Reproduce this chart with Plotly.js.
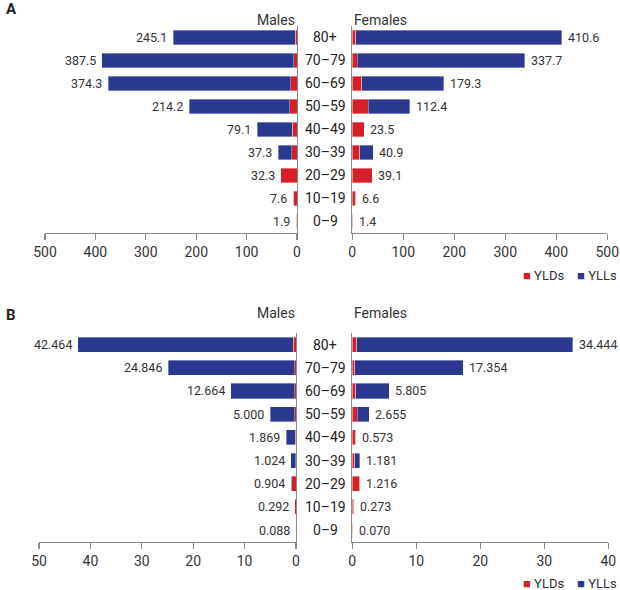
<!DOCTYPE html>
<html>
<head>
<meta charset="utf-8">
<script src="https://cdn.plot.ly/plotly-3.0.1.min.js"></script>
<style>html,body{margin:0;padding:0;background:#fff;}#chart{width:620px;height:590px;}</style>
</head>
<body>
<div id="chart"></div>
<script>
// Age groups, top to bottom
const ages = ["80+", "70–79", "60–69", "50–59", "40–49", "30–39", "20–29", "10–19", "0–9"];

// Panel A (labels = totals as printed)
const aMaleTotal   = [245.1, 387.5, 374.3, 214.2, 79.1, 37.3, 32.3, 7.6, 1.9];
const aMaleYLD     = [3.0, 6.5, 12.0, 14.0, 9.5, 10.5, 32.0, 7.4, 1.6];
const aMaleYLL     = [242.1, 381.0, 362.3, 200.2, 69.6, 26.8, 0.3, 0.2, 0.3];
const aFemaleTotal = [410.6, 337.7, 179.3, 112.4, 23.5, 40.9, 39.1, 6.6, 1.4];
const aFemaleYLD   = [7.2, 9.8, 19.0, 31.4, 23.3, 15.0, 38.9, 6.4, 1.2];
const aFemaleYLL   = [403.4, 327.9, 160.3, 81.0, 0.2, 25.9, 0.2, 0.2, 0.2];

// Panel B
const bMaleTotal   = [42.464, 24.846, 12.664, 5.000, 1.869, 1.024, 0.904, 0.292, 0.088];
const bMaleYLD     = [0.52, 0.28, 0.20, 0.20, 0.10, 0.08, 0.85, 0.28, 0.05];
const bMaleYLL     = [41.944, 24.566, 12.464, 4.800, 1.769, 0.944, 0.054, 0.012, 0.038];
const bFemaleTotal = [34.444, 17.354, 5.805, 2.655, 0.573, 1.181, 1.216, 0.273, 0.070];
const bFemaleYLD   = [0.68, 0.42, 0.57, 0.78, 0.56, 0.42, 1.20, 0.26, 0.05];
const bFemaleYLL   = [33.764, 16.934, 5.235, 1.875, 0.013, 0.761, 0.016, 0.013, 0.020];

const seriesNames = ["YLDs", "YLLs"];
const RED = "#d71f27", BLUE = "#2a3890";
const FONT = "Roboto, 'Noto Sans', sans-serif";
const TXT = "#333";

function barPair(yld, yll, xa, ya) {
  return [
    {type: "bar", orientation: "h", y: ages, x: yld, name: seriesNames[0], xaxis: xa, yaxis: ya,
     marker: {color: RED, line: {width: 0.6, color: "rgba(255,255,255,0.6)"}}, showlegend: false},
    {type: "bar", orientation: "h", y: ages, x: yll, name: seriesNames[1], xaxis: xa, yaxis: ya,
     marker: {color: BLUE, line: {width: 0.6, color: "rgba(255,255,255,0.6)"}}, showlegend: false}
  ];
}

const data = [].concat(
  barPair(aMaleYLD, aMaleYLL, "x", "y"),
  barPair(aFemaleYLD, aFemaleYLL, "x2", "y2"),
  barPair(bMaleYLD, bMaleYLL, "x3", "y3"),
  barPair(bFemaleYLD, bFemaleYLL, "x4", "y4")
);

const W = 620, H = 590;
const px = v => v / W, py = v => 1 - v / H;
const LINE = "#8a8a8a";

function xax(d0, d1, range, dtick, anchor) {
  return {domain: [px(d0), px(d1)], range: range, anchor: anchor, dtick: dtick, tick0: 0,
    showgrid: false, zeroline: false, showline: true, linecolor: LINE, linewidth: 1.3,
    ticks: "outside", ticklen: 6, tickcolor: LINE, tickwidth: 1.3,
    tickfont: {size: 14, color: TXT, family: FONT}, fixedrange: true};
}
function yax(top, bottom, anchor, side) {
  return {domain: [py(bottom), py(top)], anchor: anchor, side: side, type: "category",
    categoryorder: "array", categoryarray: ages, range: [8.5, -0.5],
    showticklabels: false, ticks: "", showgrid: false, zeroline: false,
    showline: true, linecolor: LINE, linewidth: 1.3, fixedrange: true};
}

const annotations = [];
function addText(t, x, y, xanchor, size, bold) {
  annotations.push({xref: "paper", yref: "paper", x: px(x), y: py(y), xanchor: xanchor, yanchor: "middle",
    text: bold ? "<b>" + t + "</b>" : t, showarrow: false, font: {size: size, color: bold ? "#222" : TXT, family: FONT}});
}
addText("A", 4, 9, "left", 15, true);
addText("B", 4, 315, "left", 15, true);
addText("Males", 297, 20, "right", 14, false);
addText("Females", 352, 20, "left", 14, false);
addText("Males", 297, 313, "right", 14, false);
addText("Females", 352, 313, "left", 14, false);
ages.forEach(a => {
  ["y2", "y4"].forEach(ya => annotations.push({xref: "paper", yref: ya, x: px(325), y: a, xanchor: "center", yanchor: "middle",
    text: a, showarrow: false, font: {size: 14, color: "#222", family: FONT}}));
});
// value labels (totals) at bar ends
function valueLabels(tot, dec, xa, ya, male) {
  tot.forEach((v, i) => annotations.push({xref: xa, yref: ya, x: v, y: ages[i],
    xanchor: male ? "right" : "left", yanchor: "middle", xshift: male ? -4 : 4,
    text: v.toFixed(dec), showarrow: false, font: {size: 12.5, color: TXT, family: FONT}}));
}
valueLabels(aMaleTotal, 1, "x", "y", true);
valueLabels(aFemaleTotal, 1, "x2", "y2", false);
valueLabels(bMaleTotal, 3, "x3", "y3", true);
valueLabels(bFemaleTotal, 3, "x4", "y4", false);

// legends
function legendText(y) {
  annotations.push({xref: "paper", yref: "paper", x: px(619), y: py(y), xanchor: "right", yanchor: "middle",
    text: '<span style="color:' + RED + '">■</span> ' + seriesNames[0] + '    <span style="color:' + BLUE + '">■</span> ' + seriesNames[1],
    showarrow: false, font: {size: 13, color: TXT, family: FONT}});
}
legendText(275);
legendText(583);

const layout = {
  width: W, height: H, margin: {l: 0, r: 0, t: 0, b: 0},
  paper_bgcolor: "#fff", plot_bgcolor: "#fff",
  barmode: "stack", bargap: 0.35, showlegend: false,
  font: {family: FONT, color: TXT},
  xaxis: xax(45, 297, [500, 0], 100, "y"),
  yaxis: yax(26, 233, "x", "right"),
  xaxis2: xax(352.3, 607.3, [0, 500], 100, "y2"),
  yaxis2: yax(26, 233, "x2", "left"),
  xaxis3: xax(39, 296, [50, 0], 10, "y3"),
  yaxis3: yax(333, 541.7, "x3", "right"),
  xaxis4: xax(352.3, 608.3, [0, 40], 10, "y4"),
  yaxis4: yax(333, 541.7, "x4", "left"),
  annotations: annotations
};

Plotly.newPlot("chart", data, layout, {staticPlot: true, displayModeBar: false});
</script>
</body>
</html>
